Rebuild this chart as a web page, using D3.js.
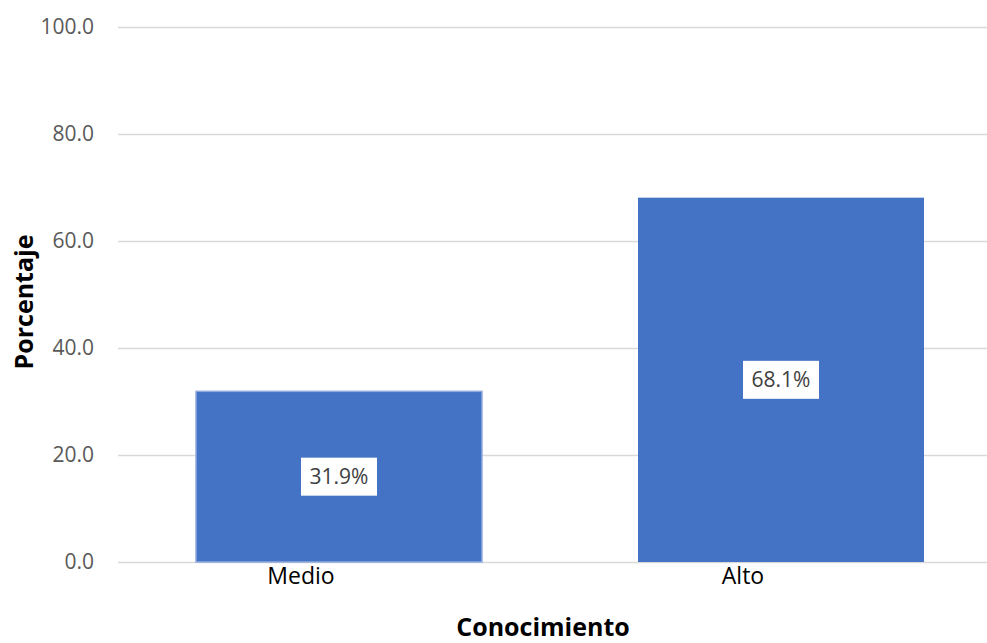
<!DOCTYPE html>
<html><head><meta charset="utf-8">
<script src="https://cdn.jsdelivr.net/npm/d3@7"></script>
<style>body{margin:0;background:#fff}svg{display:block}</style>
</head><body>
<script>
const categories = ["Medio", "Alto"];
const values = [31.9, 68.1];
const yTicks = [0, 20, 40, 60, 80, 100];
const yTitle = "Porcentaje";
const xTitle = "Conocimiento";

const W = 987, H = 643;
const svg = d3.select("body").append("svg").attr("width", W).attr("height", H);
const y = d3.scaleLinear().domain([0, 100]).range([562, 27]);
const x = d3.scaleBand().domain(categories).range([118, 1002]).paddingInner(0.353).paddingOuter(0.1765);

// gridlines
const yAxis = d3.axisLeft(y).tickValues(yTicks).tickFormat(d3.format(".1f")).tickSize(-(1002 - 118)).tickPadding(24);
const gy = svg.append("g").attr("transform", "translate(118,0)").call(yAxis);
gy.select(".domain").remove();
gy.selectAll(".tick line").attr("stroke", "#d9d9d9").attr("stroke-width", 1.4);
gy.selectAll(".tick text").attr("fill", "#595959").style("font-family", "'Open Sans', sans-serif").style("font-size", "21px");

// bars
svg.selectAll("rect.bar").data(values).enter().append("rect")
  .attr("class", "bar")
  .attr("x", (d, i) => x(categories[i]))
  .attr("width", x.bandwidth())
  .attr("y", d => y(d))
  .attr("height", d => y(0) - y(d))
  .attr("fill", "#4472c4")
  .attr("stroke", (d, i) => i === 0 ? "#8faadc" : "none")
  .attr("stroke-width", 1.5);

// data labels
const lbl = svg.selectAll("g.lbl").data(values).enter().append("g").attr("class", "lbl")
  .attr("transform", (d, i) => `translate(${x(categories[i]) + x.bandwidth() / 2},${(y(d) + y(0)) / 2})`);
lbl.append("rect").attr("x", -38).attr("y", -19).attr("width", 76).attr("height", 38).attr("fill", "#fff");
lbl.append("text").attr("text-anchor", "middle").attr("dy", "0.36em")
  .attr("fill", "#404040").style("font-family", "'Open Sans', sans-serif").style("font-size", "21px")
  .text(d => d.toFixed(1) + "%");

// x axis labels
const xAxis = d3.axisBottom(x).tickSize(0).tickPadding(6);
const gx = svg.append("g").attr("transform", "translate(0,562)").call(xAxis);
gx.select(".domain").remove();
gx.selectAll(".tick text").attr("dx", -38).attr("fill", "#000")
  .style("font-family", "'Open Sans', sans-serif").style("font-size", "23px");

// titles
svg.append("text").attr("x", 543).attr("y", 636).attr("text-anchor", "middle")
  .style("font-family", "'Open Sans', sans-serif").style("font-weight", "bold").style("font-size", "25px")
  .attr("fill", "#000").text(xTitle);
svg.append("text").attr("transform", "translate(33,302) rotate(-90)").attr("text-anchor", "middle")
  .style("font-family", "'Open Sans', sans-serif").style("font-weight", "bold").style("font-size", "25px")
  .attr("fill", "#000").text(yTitle);
</script>
</body></html>
